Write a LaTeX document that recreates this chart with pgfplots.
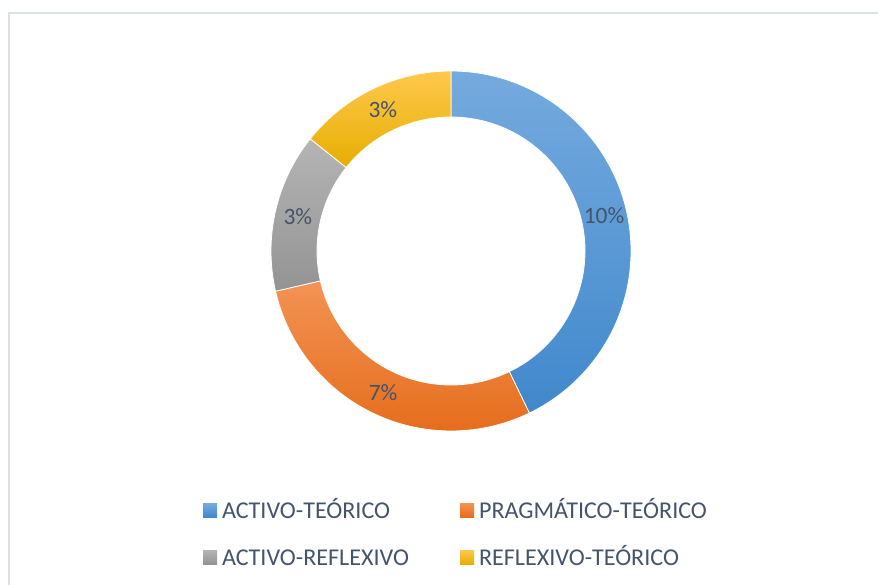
\documentclass[border=0pt]{standalone}
\usepackage{pgfplots}
\pgfplotsset{compat=1.18}
\usepackage{pgfplotstable}
\usepackage{fontspec}
\setmainfont{Carlito}

\definecolor{txt}{HTML}{44546A}
\definecolor{framec}{HTML}{DCE1E7}
\definecolor{c0t}{HTML}{75AADE}\definecolor{c0b}{HTML}{4088CC}
\definecolor{c1t}{HTML}{F39354}\definecolor{c1b}{HTML}{E46B19}
\definecolor{c2t}{HTML}{B5B5B5}\definecolor{c2b}{HTML}{939393}
\definecolor{c3t}{HTML}{FFC84D}\definecolor{c3b}{HTML}{E6AE00}

% share of each learning style (%), clockwise from the top
\pgfplotstableread{
idx value
0 10.34
1 6.90
2 3.45
3 3.45
}\donutdata

\newcommand{\chartfont}{\fontsize{23.5}{28}\selectfont}
\newcommand{\legfont}{\fontsize{24.2}{29}\selectfont}

\begin{document}
\begin{tikzpicture}
\useasboundingbox (0,0) rectangle (878bp,585bp);
\draw[framec, line width=1.5bp] (9bp,-5bp) -- (9bp,572.2bp) -- (890bp,572.2bp);
\begin{axis}[
  at={(0,0)}, anchor=south west,
  x=1bp, y=1bp, xmin=0, xmax=878, ymin=0, ymax=585,
  hide axis, clip=false,
  legend columns=2,
  legend cell align=left,
  legend image code/.code={\shade[#1, draw=none] (0bp,-7.2bp) rectangle (14bp,6.8bp);},
  legend style={draw=none, fill=none, inner sep=0pt, outer sep=0pt,
    at={(axis cs:203,82.7)}, anchor=north west,
    font=\legfont, text=txt,
    nodes={inner sep=0pt, text height=16bp, text depth=0bp},
    row sep=30.7bp,
    /tikz/every odd column/.append style={column sep=5bp},
    /tikz/every even column/.append style={column sep=51bp}},
]
\addlegendimage{top color=c0t, bottom color=c0b}
\addlegendentry{ACTIVO-TEÓRICO}
\addlegendimage{top color=c1t, bottom color=c1b}
\addlegendentry{PRAGMÁTICO-TEÓRICO}
\addlegendimage{top color=c2t, bottom color=c2b}
\addlegendentry{ACTIVO-REFLEXIVO}
\addlegendimage{top color=c3t, bottom color=c3b}
\addlegendentry{REFLEXIVO-TEÓRICO}

\pgfplotsextra{
  \pgfplotstablegetrowsof{\donutdata}%
  \pgfmathtruncatemacro\nlast{\pgfplotsretval-1}%
  \def\total{0}%
  \pgfplotsforeachungrouped \i in {0,...,\nlast}{%
    \pgfplotstablegetelem{\i}{value}\of\donutdata
    \pgfmathsetmacro\total{\total+\pgfplotsretval}}%
  \def\cur{90}%
  \begin{scope}[shift={(axis cs:451,334)}]
  \pgfplotsforeachungrouped \i in {0,...,\nlast}{%
    \pgfplotstablegetelem{\i}{value}\of\donutdata
    \let\segval\pgfplotsretval
    \pgfmathsetmacro\nxt{\cur-\segval/\total*360}%
    \pgfmathsetmacro\amid{(\cur+\nxt)/2}%
    \shadedraw[top color=c\i t, bottom color=c\i b, draw=white, line width=0.8bp]
      (\cur:180bp) arc[start angle=\cur, end angle=\nxt, radius=180bp]
      -- (\nxt:134bp) arc[start angle=\nxt, end angle=\cur, radius=134bp] -- cycle;
    \node[text=txt, font=\chartfont, inner sep=0pt] at (\amid:157bp)
      {\pgfmathprintnumber[fixed,precision=0,assume math mode=true]{\segval}\%};
    \let\cur\nxt
  }%
  \end{scope}
}
\end{axis}
\end{tikzpicture}
\end{document}
